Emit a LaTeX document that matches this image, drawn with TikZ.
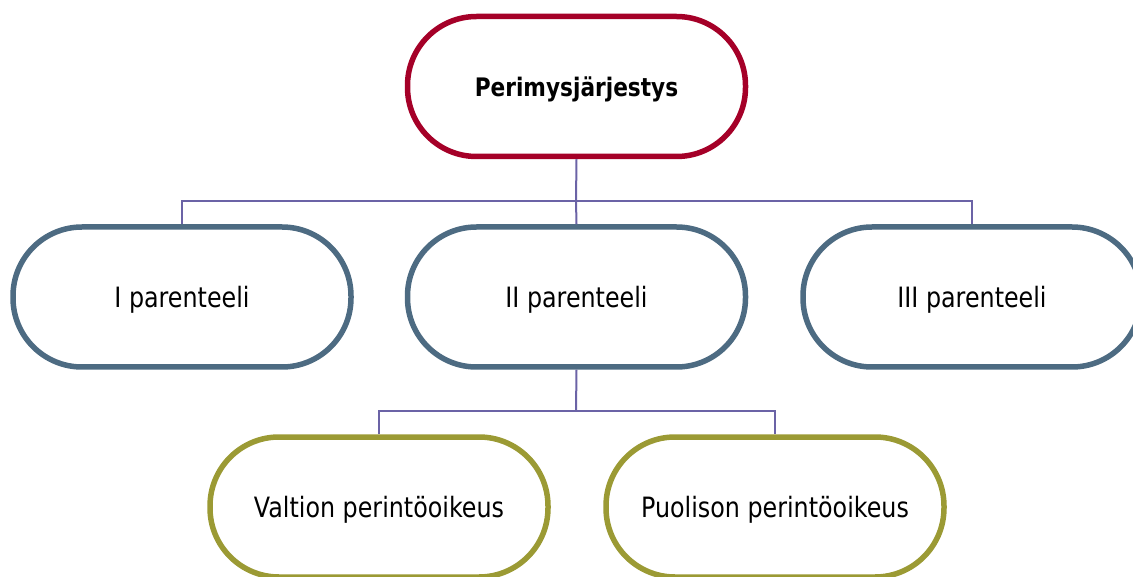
\documentclass[tikz,border=0pt]{standalone}
\usepackage{fontspec}
\setmainfont{DejaVu Sans}[FakeStretch=0.85]
\definecolor{topred}{HTML}{A50028}
\definecolor{slate}{HTML}{4D6B82}
\definecolor{olive}{HTML}{9B9A34}
\definecolor{linkc}{HTML}{6B63A6}
\tikzset{
  pill/.style={draw=#1, line width=5.5pt, fill=white, rectangle, rounded corners=69pt,
    minimum width=338pt, minimum height=140pt, inner sep=0pt, align=center, text depth=0pt,
    font=\fontsize{28}{32}\selectfont},
  link/.style={draw=linkc, line width=2pt}
}
\begin{document}
\begin{tikzpicture}[x=1pt,y=-1pt]
\useasboundingbox (0,0) rectangle (1133,577);
\coordinate (busA) at (576,201);
\coordinate (busB) at (576,411);
\node[pill=topred, font=\fontsize{25.5}{30}\selectfont\bfseries] (top) at (576.5,86.5) {Perimysjärjestys};
\node[pill=slate] (p1) at (182,297) {I parenteeli};
\node[pill=slate] (p2) at (576.5,297) {II parenteeli};
\node[pill=slate] (p3) at (972,297) {III parenteeli};
\node[pill=olive] (v) at (379,507) {Valtion perintöoikeus};
\node[pill=olive] (s) at (775,507) {Puolison perintöoikeus};
\draw[link] (top.south) -- (busA);
\draw[link] (busA) -| (p1.north);
\draw[link] (busA) -| (p3.north);
\draw[link] (busA) -- (p2.north);
\draw[link] (p2.south) -- (busB);
\draw[link] (busB) -| (v.north);
\draw[link] (busB) -| (s.north);
\end{tikzpicture}
\end{document}
